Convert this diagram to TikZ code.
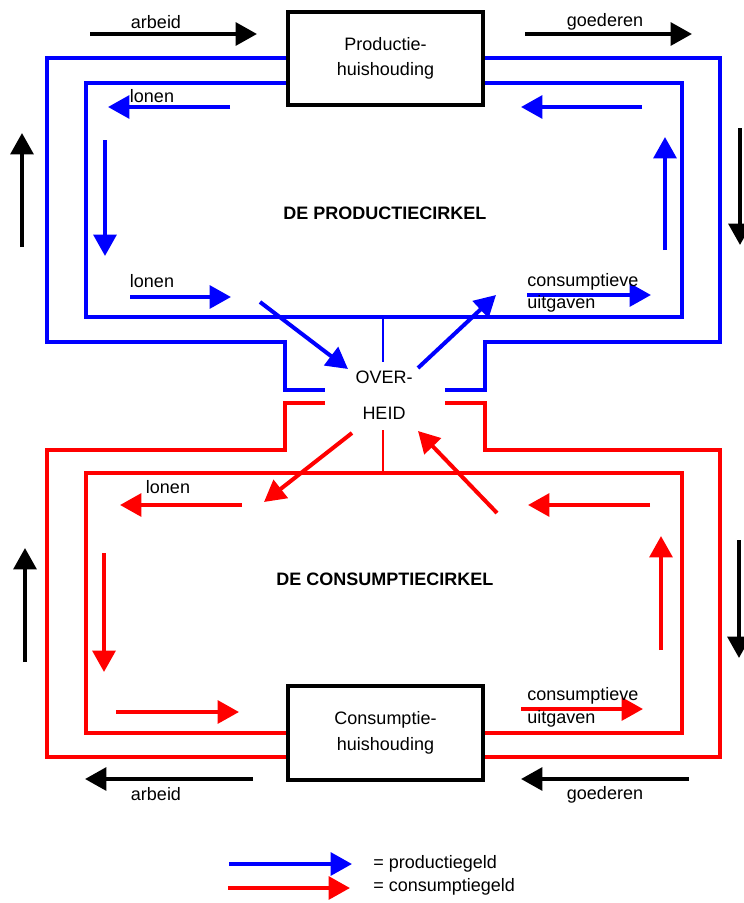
\documentclass[tikz,border=0pt]{standalone}
\usepackage{fontspec}
\setmainfont{Liberation Sans}
\usetikzlibrary{arrows.meta}
\definecolor{pblue}{RGB}{0,0,255}
\definecolor{cred}{RGB}{255,0,0}
\tikzset{
  circ/.style={line width=3pt, line cap=butt, line join=miter},
  thin line/.style={line width=1.1pt},
  flow/.style={line width=3pt, -{Triangle[length=16pt,width=17pt]}},
  box/.style={draw, line width=3pt, minimum width=146pt, minimum height=70pt, align=center, font=\fontsize{13.5}{19}\selectfont},
  lbl/.style={font=\fontsize{13.5}{16}\selectfont, inner sep=0pt},
  title/.style={font=\fontsize{13.5}{16}\selectfont\bfseries, inner sep=0pt},
}
\begin{document}
\begin{tikzpicture}[x=0.75pt,y=-0.75pt]
\useasboundingbox (0,0) rectangle (743,903);

% boxes
\node[box] (ph) at (385.5,58.5) {Productie-\\huishouding};
\node[box] (ch) at (385.5,733) {Consumptie-\\huishouding};

% blue circuit
\draw[pblue,circ] (ph.west |- 0,58) -- (47,58) -- (47,342) -- (285,342) -- (285,390) -- (325,390);
\draw[pblue,circ] (ph.east |- 0,58) -- (720,58) -- (720,342) -- (485,342) -- (485,390) -- (445,390);
\draw[pblue,circ] (ph.west |- 0,83) -- (86,83) -- (86,317) -- (682,317) -- (682,83) -- (ph.east |- 0,83);
\draw[pblue,thin line] (383,317) -- (383,362);

% red circuit
\draw[cred,circ] (325,403) -- (285,403) -- (285,450) -- (47,450) -- (47,757) -- (ch.west |- 0,757);
\draw[cred,circ] (445,403) -- (485,403) -- (485,450) -- (720,450) -- (720,757) -- (ch.east |- 0,757);
\draw[cred,circ] (ch.west |- 0,733) -- (86,733) -- (86,473) -- (682,473) -- (682,733) -- (ch.east |- 0,733);
\draw[cred,thin line] (383,430) -- (383,473);

% overheid
\node[lbl] (over) at (384,377) {OVER-};
\node[lbl] (heid) at (384,413) {HEID};

% titles
\node[title] (pc) at (385,213) {DE PRODUCTIECIRKEL};
\node[title] (cc) at (385,579) {DE CONSUMPTIECIRKEL};

% black arrows
\draw[flow] (90,34) -- (257,34);
\node[lbl] (arb1) at (156,22) {arbeid};
\draw[flow] (525,34) -- (692,34);
\node[lbl] (goe1) at (605,22) {goederen};
\draw[flow] (22,247) -- (22,133);
\draw[flow] (740,128) -- (740,245);
\draw[flow] (253,779) -- (85,779);
\node[lbl] (arb2) at (156,794) {arbeid};
\draw[flow] (689,779) -- (521,779);
\node[lbl] (goe2) at (605,795) {goederen};
\draw[flow] (25,662) -- (25,548);
\draw[flow] (739,540) -- (739,658);

% blue arrows
\draw[flow,pblue] (230,107) -- (108,107);
\node[lbl] (lon1) at (152,96) {lonen};
\draw[flow,pblue] (642,107) -- (521,107);
\draw[flow,pblue] (105,140) -- (105,256);
\draw[flow,pblue] (665,250) -- (665,137);
\draw[flow,pblue] (130,297) -- (231,297);
\node[lbl] (lon2) at (152,281) {lonen};
\draw[flow,pblue] (527,295) -- (651,295);
\node[lbl,anchor=west] (cu1a) at (527,282) {consumptieve};
\node[lbl,anchor=west] (cu1b) at (527,304) {uitgaven};
\draw[flow,pblue] (260,302) -- (348,369);
\draw[flow,pblue] (418,368) -- (496,295);

% red arrows
\draw[flow,cred] (242,505) -- (120,505);
\node[lbl] (lon3) at (168,487) {lonen};
\draw[flow,cred] (650,505) -- (528,505);
\draw[flow,cred] (104,553) -- (104,672);
\draw[flow,cred] (661,650) -- (661,536);
\draw[flow,cred] (116,712) -- (239,712);
\draw[flow,cred] (521,709) -- (643,709);
\node[lbl,anchor=west] (cu2a) at (527,696) {consumptieve};
\node[lbl,anchor=west] (cu2b) at (527,719) {uitgaven};
\draw[flow,cred] (352,433) -- (264,502);
\draw[flow,cred] (497,513) -- (418,431);

% legend
\draw[flow,pblue] (229,864) -- (352,864);
\node[lbl,anchor=west] (leg1) at (373,864) {= productiegeld};
\draw[flow,cred] (228,888) -- (350,888);
\node[lbl,anchor=west] (leg2) at (373,887) {= consumptiegeld};
\end{tikzpicture}
\end{document}
